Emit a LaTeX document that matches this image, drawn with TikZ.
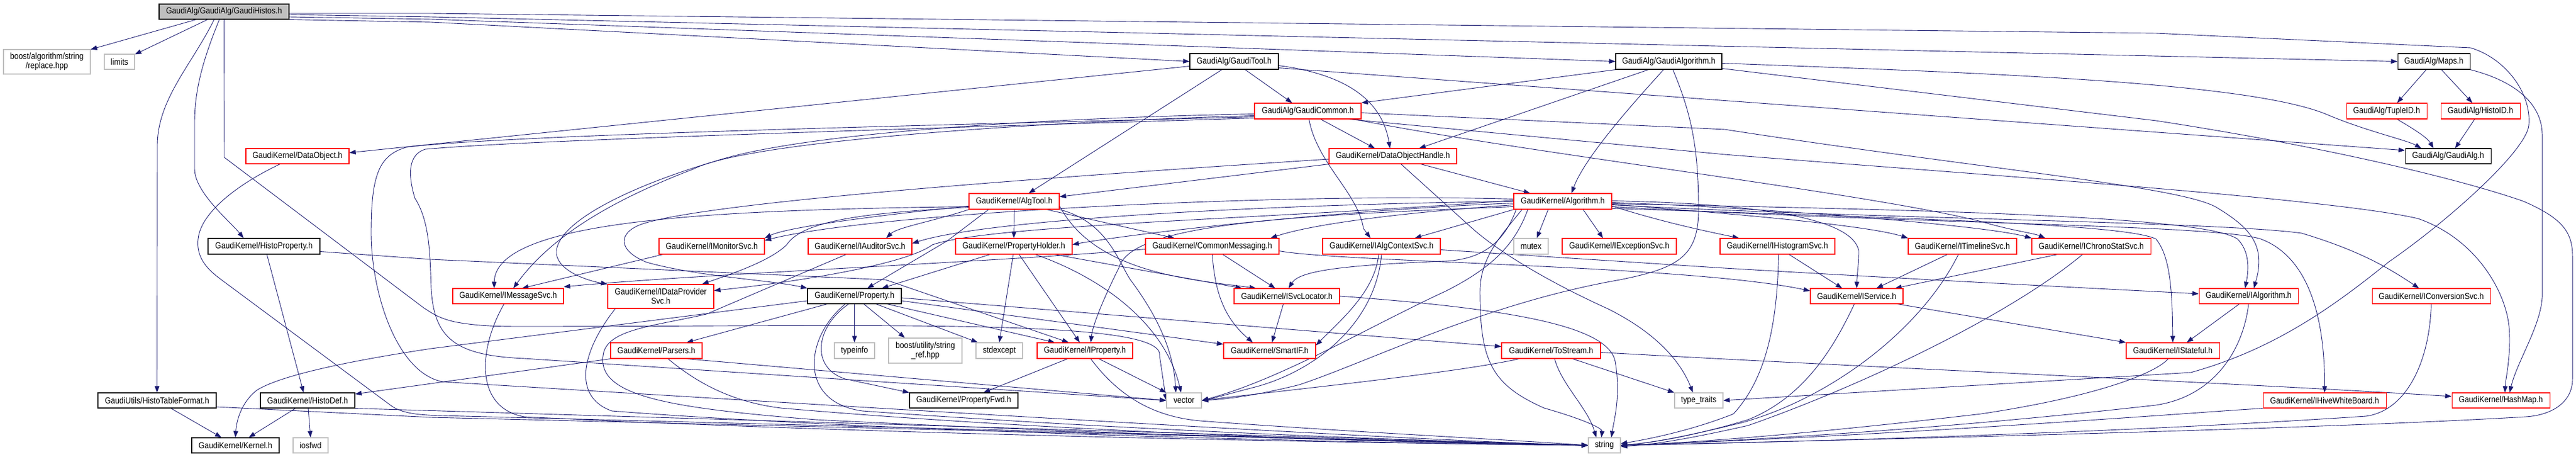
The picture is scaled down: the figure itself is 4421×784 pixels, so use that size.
\documentclass[tikz,border=0pt]{standalone}
\usepackage{fontspec}
\setmainfont[FakeStretch=0.88]{Liberation Sans}
\usetikzlibrary{arrows.meta}
\definecolor{edgec}{HTML}{191970}
\definecolor{grayc}{HTML}{BFBFBF}
\definecolor{redc}{HTML}{FF0000}
\pgfdeclarelayer{bottom}
\pgfdeclarelayer{edges}
\pgfsetlayers{bottom,edges,main}
\tikzset{
 nb/.style={rectangle, inner sep=0pt, line width=1.1pt, fill=white, align=center, font=\fontsize{15pt}{16pt}\selectfont},
 blk/.style={nb, draw=black},
 rd/.style={nb, draw=redc},
 gry/.style={nb, draw=grayc},
 root/.style={nb, draw=black, fill=grayc},
 e/.style={draw=edgec, line width=0.9pt, -{Triangle[length=11pt,width=8pt]}},
}
\newcommand\mknode[7]{\node[#1, minimum width=#5pt, minimum height=#6pt] (#2) at (#3,#4) {#7};}
\begin{document}
\begin{tikzpicture}[x=1pt,y=-1pt]
\begin{pgfonlayer}{bottom}
\fill[white] (0,0) rectangle (4421,784);
\end{pgfonlayer}
\useasboundingbox (0,0) rectangle (4421,784);
% ---------- nodes ----------
\mknode{root}{gh}{384.5}{20}{223}{26}{GaudiAlg/GaudiAlg/GaudiHistos.h}
\mknode{gry}{bar}{80.5}{106}{149}{42}{boost/algorithm/string\\/replace.hpp}
\mknode{gry}{lim}{205}{106}{52}{26}{limits}
\mknode{blk}{gt}{2118}{105.5}{152}{27}{GaudiAlg/GaudiTool.h}
\mknode{blk}{ga}{2864}{105.5}{182}{27}{GaudiAlg/GaudiAlgorithm.h}
\mknode{blk}{maps}{4177}{105.5}{124}{27}{GaudiAlg/Maps.h}
\mknode{rd}{gc}{2244.5}{190.5}{183}{27}{GaudiAlg/GaudiCommon.h}
\mknode{rd}{tid}{4096}{190.5}{138}{27}{GaudiAlg/TupleID.h}
\mknode{rd}{hid}{4257}{190.5}{136}{27}{GaudiAlg/HistoID.h}
\mknode{rd}{dobj}{510.5}{268}{177}{26}{GaudiKernel/DataObject.h}
\mknode{rd}{doh}{2390.5}{268}{219}{26}{GaudiKernel/DataObjectHandle.h}
\mknode{blk}{galg}{4201.5}{268}{147}{26}{GaudiAlg/GaudiAlg.h}
\mknode{rd}{at}{1740.5}{345.5}{155}{27}{GaudiKernel/AlgTool.h}
\mknode{rd}{alg}{2682}{345.5}{168}{27}{GaudiKernel/Algorithm.h}
\mknode{blk}{hp}{453}{422.5}{192}{27}{GaudiKernel/HistoProperty.h}
\mknode{rd}{ims}{1221.5}{422.5}{181}{27}{GaudiKernel/IMonitorSvc.h}
\mknode{rd}{ias}{1476}{422.5}{178}{27}{GaudiKernel/IAuditorSvc.h}
\mknode{rd}{ph}{1740}{422.5}{200}{27}{GaudiKernel/PropertyHolder.h}
\mknode{rd}{cm}{2080.5}{422.5}{229}{27}{GaudiKernel/CommonMessaging.h}
\mknode{rd}{iac}{2371}{422.5}{202}{27}{GaudiKernel/IAlgContextSvc.h}
\mknode{gry}{mutex}{2627.5}{422.5}{59}{27}{mutex}
\mknode{rd}{iex}{2779}{422.5}{196}{27}{GaudiKernel/IExceptionSvc.h}
\mknode{rd}{ihs}{3050.5}{422.5}{197}{27}{GaudiKernel/IHistogramSvc.h}
\mknode{rd}{itl}{3368}{422.5}{186}{27}{GaudiKernel/ITimelineSvc.h}
\mknode{rd}{ics}{3589}{422.5}{204}{27}{GaudiKernel/IChronoStatSvc.h}
\mknode{rd}{imsg}{872}{508}{190}{26}{GaudiKernel/IMessageSvc.h}
\mknode{rd}{idp}{1134}{508.5}{182}{41}{GaudiKernel/IDataProvider\\Svc.h}
\mknode{blk}{prop}{1466.5}{508}{161}{26}{GaudiKernel/Property.h}
\mknode{rd}{isl}{2208.5}{508}{181}{26}{GaudiKernel/ISvcLocator.h}
\mknode{rd}{isv}{3186.5}{508}{159}{26}{GaudiKernel/IService.h}
\mknode{rd}{ialg}{3859}{508}{170}{26}{GaudiKernel/IAlgorithm.h}
\mknode{rd}{icv}{4172.5}{508}{203}{26}{GaudiKernel/IConversionSvc.h}
\mknode{rd}{pars}{1126.5}{601.5}{157}{27}{GaudiKernel/Parsers.h}
\mknode{gry}{tinfo}{1466.5}{601.5}{69}{27}{typeinfo}
\mknode{gry}{bus}{1588}{601.5}{126}{43}{boost/utility/string\\\_ref.hpp}
\mknode{gry}{stdx}{1715}{601.5}{80}{27}{stdexcept}
\mknode{rd}{iprop}{1862}{601.5}{164}{27}{GaudiKernel/IProperty.h}
\mknode{rd}{sif}{2179}{601.5}{158}{27}{GaudiKernel/SmartIF.h}
\mknode{rd}{tos}{2662}{601.5}{170}{27}{GaudiKernel/ToStream.h}
\mknode{rd}{ist}{3729}{601.5}{160}{27}{GaudiKernel/IStateful.h}
\mknode{blk}{htf}{269.5}{687}{203}{26}{GaudiUtils/HistoTableFormat.h}
\mknode{blk}{hdef}{528}{687}{162}{26}{GaudiKernel/HistoDef.h}
\mknode{blk}{pfwd}{1654}{687}{186}{26}{GaudiKernel/PropertyFwd.h}
\mknode{gry}{vec}{2032}{687}{60}{26}{vector}
\mknode{gry}{tt}{2915.5}{687}{83}{26}{type\_traits}
\mknode{rd}{ihwb}{3989.5}{687}{211}{26}{GaudiKernel/IHiveWhiteBoard.h}
\mknode{rd}{hm}{4292}{687}{168}{26}{GaudiKernel/HashMap.h}
\mknode{blk}{kern}{404}{764}{150}{26}{GaudiKernel/Kernel.h}
\mknode{gry}{iosfwd}{533}{764}{60}{26}{iosfwd}
\mknode{gry}{str}{2753.5}{764}{55}{26}{string}
% ---------- edges ----------
\begin{pgfonlayer}{edges}
% GaudiHistos.h
\draw[e] (gh) -- (bar);
\draw[e] (gh) -- (lim);
\draw[e] ([xshift=-17pt]gh.south) .. controls (330,110) and (270,170) .. (270,250) -- (htf.north);
\draw[e] ([xshift=-8pt]gh.south) .. controls (345,110) and (334,160) .. (334,210) -- (334,290) .. controls (334,330) and (395,380) .. ([xshift=-35pt]hp.north);
\draw[e] (gh.south) -- (385,270) -- (727,528) .. controls (740,536) and (750,545) .. (780,552) .. controls (820,560) and (860,560) .. (900,560) .. controls (1500,560) and (2000,545) .. (1990,610) -- (vec.west);
\draw[e] (gh.south east) -- (740,38) -- (gt.west);
\draw[e] ([yshift=-9pt]gh.east) -- (740,33) -- (ga.west);
\draw[e] ([yshift=-5pt]gh.east) -- (740,29) -- (maps.west);
\draw[e] ([yshift=-3pt]gh.east) -- (740,23) -- (3700,57) -- (4240,82) .. controls (4300,100) and (4345,160) .. (4340,215) .. controls (4335,260) and (4200,380) .. (4100,449) .. controls (4000,530) and (3900,600) .. (3760,639) -- (tt.east);
% GaudiTool.h
\draw[e] ([xshift=19pt]gt.south) -- ([xshift=-27pt]gc.north);
\draw[e] ([xshift=-21pt]gt.south) -- ([xshift=25pt]at.north);
\draw[e] ([yshift=-7pt]gt.east) .. controls (2290,125) and (2370,160) .. ([xshift=-5pt]doh.north);
\draw[e] ([yshift=-11pt]gt.east) -- ([yshift=10pt]galg.west);
\draw[e] ([yshift=-8pt]gt.west) -- ([yshift=6pt]dobj.east);
% GaudiAlgorithm.h
\draw[e] (ga.south west) -- (gc.north east);
\draw[e] ([xshift=-35pt]ga.south) -- ([xshift=45pt]doh.north);
\draw[e] ([xshift=-9pt]ga.south) .. controls (2800,180) and (2720,270) .. ([xshift=15pt]alg.north);
\draw[e] ([yshift=-3pt]ga.east) .. controls (3400,125) and (3850,140) .. (3990,195) .. controls (4060,225) and (4130,240) .. ([xshift=-46pt]galg.north);
\draw[e] ([yshift=-12pt]ga.east) -- (3700,207) .. controls (3950,245) and (4200,300) .. (4330,345) .. controls (4400,375) and (4415,400) .. (4415,440) -- (4415,650) .. controls (4415,690) and (4380,712) .. (4335,715) .. controls (4000,735) and (3300,752) .. (str.east);
\draw[e] ([xshift=7pt]ga.south) .. controls (2905,200) and (2915,260) .. (2915,360) .. controls (2915,440) and (2880,460) .. (2780,480) .. controls (2550,520) and (2350,620) .. (2230,660) .. controls (2150,680) and (2100,685) .. (vec.east);
% Maps.h, TupleID.h, HistoID.h
\draw[e] ([xshift=-13pt]maps.south) -- ([xshift=18pt]tid.north);
\draw[e] ([xshift=13pt]maps.south) -- ([xshift=-14pt]hid.north);
\draw[e] (maps.south east) .. controls (4320,140) and (4362,180) .. (4363,230) -- (4363,510) .. controls (4360,560) and (4320,620) .. ([xshift=15pt]hm.north);
\draw[e] ([xshift=18pt]tid.south) .. controls (4140,220) and (4165,235) .. ([xshift=-25pt]galg.north);
\draw[e] ([xshift=-10pt]hid.south) -- ([xshift=12pt]galg.north);
% GaudiCommon.h
\draw[e] ([xshift=22pt]gc.south) -- ([xshift=-31pt]doh.north);
\draw[e] ([xshift=2pt]gc.south) .. controls (2260,280) and (2330,330) .. (2340,392) -- ([xshift=-19pt]iac.north);
\draw[e] ([yshift=-5pt]gc.west) .. controls (1900,200) and (1400,220) .. (1226,277) .. controls (1080,320) and (960,380) .. (955,430) .. controls (952,460) and (1000,480) .. (idp.north west);
\draw[e] ([yshift=-8pt]gc.west) .. controls (1900,205) and (1300,235) .. (1190,290) .. controls (1060,340) and (950,400) .. ([xshift=9pt]imsg.north);
\draw[e] ([yshift=-10pt]gc.west) .. controls (1600,215) and (900,230) .. (700,252) .. controls (650,265) and (637,300) .. (637,400) .. controls (637,500) and (680,640) .. (760,655) .. controls (1500,700) and (2400,755) .. (str.west);
\draw[e] ([yshift=-12pt]gc.west) .. controls (1600,220) and (900,240) .. (730,256) .. controls (700,265) and (700,300) .. (712,340) .. controls (738,380) and (738,440) .. (740,495) .. controls (745,580) and (780,610) .. (900,615) -- (vec.west);
\draw[e] ([yshift=-3pt]gc.east) -- (2960,222) .. controls (3400,290) and (3750,320) .. (3806,357) .. controls (3860,390) and (3890,420) .. ([xshift=9pt]ialg.north);
\draw[e] ([xshift=-22pt]gc.south east) -- (2960,265) .. controls (3400,300) and (4000,340) .. (4150,375) .. controls (4250,410) and (4300,500) .. (4306,560) .. controls (4310,610) and (4300,650) .. ([xshift=7pt]hm.north);
\draw[e] ([xshift=-12pt]gc.south east) .. controls (2600,260) and (3200,330) .. (3400,380) .. controls (3450,395) and (3490,400) .. ([xshift=-79pt]ics.north);
% DataObjectHandle.h
\draw[e] ([xshift=48pt]doh.south) -- ([xshift=-56pt]alg.north);
\draw[e] (doh.south west) -- ([yshift=8pt]at.east);
\draw[e] ([yshift=-5pt]doh.west) .. controls (1700,310) and (1200,350) .. (1100,385) .. controls (1060,400) and (1060,430) .. (1110,450) .. controls (1200,475) and (1320,480) .. (prop.north west);
\draw[e] ([xshift=14pt]doh.south) -- (2527,392) .. controls (2570,430) and (2650,480) .. (2760,530) .. controls (2830,565) and (2880,610) .. ([xshift=-10pt]tt.north);
% DataObject.h
\draw[e] ([xshift=-30pt]dobj.south) .. controls (420,310) and (345,360) .. (340,410) .. controls (336,445) and (360,465) .. (380,480) -- (670,695) .. controls (690,710) and (720,712) .. (760,713) -- (str.west);
% HistoProperty.h, HistoTableFormat.h, HistoDef.h
\draw[e] ([xshift=5pt]hp.south) -- ([xshift=-7pt]hdef.north);
\draw[e] ([yshift=-9pt]hp.east) -- (740,445) -- (1520,480) -- ([xshift=-28pt]iprop.north);
\draw[e] ([xshift=24pt]htf.south) -- ([xshift=-24pt]kern.north);
\draw[e] ([yshift=-11pt]htf.east) -- (740,716) -- (str.west);
\draw[e] ([xshift=-21pt]hdef.south) -- ([xshift=23pt]kern.north);
\draw[e] ([xshift=1pt]hdef.south) -- (iosfwd.north);
\draw[e] (hdef.south east) -- (str.west);
% Property.h
\draw[e] ([yshift=-8pt]prop.west) -- (740,598) .. controls (560,625) and (470,650) .. (440,670) .. controls (415,690) and (406,720) .. (kern.north);
\draw[e] ([xshift=-47pt]prop.south) -- ([xshift=52pt]pars.north);
\draw[e] (prop.south) -- (tinfo.north);
\draw[e] ([xshift=16pt]prop.south) -- ([xshift=-35pt]bus.north);
\draw[e] ([xshift=37pt]prop.south) -- ([xshift=-37pt]stdx.north);
\draw[e] ([xshift=56pt]prop.south) -- ([xshift=-52pt]iprop.north);
\draw[e] ([yshift=-8pt]prop.east) -- ([yshift=11pt]sif.west);
\draw[e] ([yshift=-3pt]prop.east) -- ([yshift=7pt]tos.west);
\draw[e] ([xshift=-10pt]prop.south) .. controls (1400,560) and (1390,630) .. (1450,650) -- (pfwd.north west);
\draw[e] ([xshift=-16pt]prop.south) .. controls (1380,580) and (1370,690) .. (1480,705) .. controls (1900,735) and (2300,752) .. (str.west);
% Parsers.h
\draw[e] (pars.south west) -- ([yshift=11pt]hdef.east);
\draw[e] ([xshift=20pt]pars.south) .. controls (1200,660) and (1260,690) .. (1340,700) .. controls (1800,740) and (2400,760) .. (str.west);
\draw[e] ([xshift=52pt]pars.south) -- (vec.west);
% IProperty.h
\draw[e] ([xshift=-30pt]iprop.south) -- ([xshift=34pt]pfwd.north);
\draw[e] ([xshift=24pt]iprop.south) -- (vec.north west);
\draw[e] ([xshift=10pt]iprop.south) .. controls (1920,680) and (1980,715) .. (2060,722) .. controls (2300,740) and (2600,755) .. (str.west);
% PropertyHolder.h
\draw[e] ([xshift=-41pt]ph.south) -- ([xshift=47pt]prop.north);
\draw[e] ([xshift=-1pt]ph.south) -- (stdx.north);
\draw[e] ([xshift=9pt]ph.south) -- ([xshift=-9pt]iprop.north);
\draw[e] ([xshift=37pt]ph.south) .. controls (1900,480) and (2000,560) .. ([xshift=-5pt]vec.north);
\draw[e] ([xshift=70pt]ph.south) -- ([xshift=-77pt]isl.north);
% CommonMessaging.h
\draw[e] (cm.south) .. controls (2085,500) and (2100,545) .. ([xshift=-29pt]sif.north);
\draw[e] ([xshift=18pt]cm.south) -- ([xshift=-20pt]isl.north);
\draw[e] ([yshift=-5pt]cm.west) .. controls (1700,450) and (1200,470) .. ([yshift=16pt]imsg.east);
\draw[e] ([yshift=-8pt]cm.east) .. controls (2300,450) and (2900,455) .. ([yshift=9pt]isv.west);
% AlgTool.h
\draw[e] (at.south) -- (ph.north);
\draw[e] ([yshift=-8pt]at.west) .. controls (1500,370) and (1350,390) .. (ims.north east);
\draw[e] (at.south west) .. controls (1600,380) and (1540,390) .. ([xshift=45pt]ias.north);
\draw[e] ([xshift=56pt]at.south) -- ([xshift=-65pt]cm.north);
\draw[e] ([xshift=-44pt]at.south) -- (1626,413) -- ([xshift=22pt]prop.north);
\draw[e] ([yshift=-9pt]at.west) .. controls (1200,360) and (850,380) .. ([xshift=-24pt]imsg.north);
\draw[e] ([yshift=4pt]at.south west) .. controls (1500,365) and (1380,375) .. (1350,420) .. controls (1320,450) and (1240,475) .. ([xshift=71pt]idp.north);
\draw[e] ([yshift=-8pt]at.east) .. controls (1880,470) and (2050,480) .. ([xshift=-53pt]isl.north);
\draw[e] (at.south east) .. controls (1900,380) and (1920,450) .. (1940,480) .. controls (2000,560) and (2015,620) .. ([xshift=-14pt]vec.north);
% Algorithm.h
\draw[e] ([yshift=4pt]alg.west) .. controls (2200,330) and (1500,365) .. ([yshift=-4pt]ims.north east);
\draw[e] (alg.west) .. controls (2200,350) and (1700,375) .. ([yshift=5pt]ias.east);
\draw[e] ([yshift=-3pt]alg.west) .. controls (2300,360) and (1950,400) .. ([yshift=3pt]ph.east);
\draw[e] ([yshift=-6pt]alg.west) .. controls (2400,365) and (2250,385) .. ([xshift=-15pt]cm.north east);
\draw[e] (alg.south west) -- ([xshift=57pt]iac.north);
\draw[e] ([xshift=-25pt]alg.south) -- ([xshift=10pt]mutex.north);
\draw[e] ([xshift=35pt]alg.south) -- ([xshift=-28pt]iex.north);
\draw[e] ([yshift=-8pt]alg.east) .. controls (2850,380) and (2920,395) .. ([xshift=-66pt]ihs.north);
\draw[e] ([yshift=-5pt]alg.east) .. controls (2950,365) and (3200,385) .. (itl.north west);
\draw[e] ([yshift=-2pt]alg.east) .. controls (3000,355) and (3400,385) .. (ics.north west);
\draw[e] ([yshift=1pt]alg.east) .. controls (3050,350) and (3180,380) .. (3190,430) .. controls (3190,455) and (3187,470) .. (isv.north);
\draw[e] ([xshift=-80pt]alg.south) .. controls (2580,420) and (2540,445) .. (2480,448) .. controls (2300,455) and (2230,465) .. ([xshift=3pt]isl.north);
\draw[e] ([yshift=-4pt]alg.east) .. controls (3300,360) and (3780,370) .. (3840,410) .. controls (3860,430) and (3860,460) .. ([xshift=-6pt]ialg.north);
\draw[e] ([yshift=-6pt]alg.east) .. controls (3200,375) and (3800,380) .. (3950,400) .. controls (4050,430) and (4100,460) .. ([xshift=-21pt]icv.north);
\draw[e] ([yshift=-9pt]alg.east) .. controls (3300,385) and (3800,385) .. (3880,410) .. controls (3960,440) and (3990,540) .. (ihwb.north);
\draw[e] ([yshift=-12pt]alg.east) .. controls (3300,375) and (3650,385) .. (3700,410) .. controls (3725,440) and (3728,500) .. (ist.north);
\draw[e] ([yshift=2pt]alg.west) .. controls (2200,375) and (1700,385) .. (1600,420) .. controls (1560,450) and (1400,480) .. ([yshift=10pt]idp.east);
\draw[e] ([yshift=-9pt]alg.west) .. controls (2200,370) and (1940,385) .. (1920,460) .. controls (1890,520) and (1875,560) .. ([xshift=10pt]iprop.north);
\draw[e] ([xshift=-70pt]alg.south) .. controls (2580,400) and (2540,440) .. (2540,500) .. controls (2540,620) and (2560,660) .. (2650,700) .. controls (2720,720) and (2750,735) .. ([xshift=-5pt]str.north);
\draw[e] ([xshift=-60pt]alg.south) .. controls (2600,420) and (2560,460) .. (2480,500) .. controls (2350,560) and (2200,650) .. (vec.east);
% service interfaces
\draw[e] ([xshift=20pt]ihs.south) -- ([xshift=-25pt]isv.north);
\draw[e] ([xshift=-26pt]itl.south) -- ([xshift=34pt]isv.north);
\draw[e] ([xshift=-58pt]ics.south) -- ([xshift=66pt]isv.north);
\draw[e] ([xshift=2pt]ihs.south) .. controls (3050,560) and (3030,650) .. (2975,710) .. controls (2900,740) and (2820,755) .. ([yshift=3pt]str.east);
\draw[e] ([xshift=-7pt]itl.south) .. controls (3300,560) and (3150,680) .. (2990,725) .. controls (2880,752) and (2830,760) .. (str.east);
\draw[e] ([xshift=-15pt]ics.south) .. controls (3450,540) and (3200,660) .. (3000,730) .. controls (2880,757) and (2830,763) .. ([yshift=-2pt]str.east);
\draw[e] ([xshift=-4pt]isv.south) .. controls (3150,590) and (3100,680) .. (3000,720) .. controls (2900,750) and (2830,760) .. (str.east);
\draw[e] ([xshift=70pt]isv.south) -- (ist.north west);
\draw[e] ([xshift=-16pt]ialg.south) -- ([xshift=24pt]ist.north);
\draw[e] (ialg.south) .. controls (3850,600) and (3800,680) .. (3700,695) .. controls (3300,740) and (2950,758) .. (str.east);
\draw[e] (icv.south) .. controls (4170,620) and (4130,705) .. (4060,714) .. controls (3600,745) and (3000,760) .. (str.east);
\draw[e] (ihwb.south west) .. controls (3800,705) and (3300,745) .. (str.east);
\draw[e] ([xshift=-8pt]ist.south) .. controls (3700,640) and (3600,680) .. (3400,710) .. controls (3100,745) and (2900,760) .. (str.east);
\draw[e] ([xshift=6pt]tos.south) .. controls (2680,660) and (2725,700) .. ([xshift=-14pt]str.north);
\draw[e] ([xshift=37pt]tos.south) -- (tt.north west);
\draw[e] ([xshift=-55pt]tos.south) .. controls (2500,640) and (2200,670) .. (vec.east);
\draw[e] ([yshift=-3pt]tos.east) .. controls (3200,630) and (3800,655) .. ([yshift=7pt]hm.west);
\draw[e] ([xshift=-6pt]isl.south) -- ([xshift=4pt]sif.north);
\draw[e] (isl.east) .. controls (2600,530) and (2760,560) .. (2772,620) .. controls (2782,680) and (2770,720) .. ([xshift=12pt]str.north);
\draw[e] ([xshift=-5pt]iac.south) .. controls (2360,500) and (2300,550) .. ([yshift=-5pt]sif.north east);
\draw[e] (iac.south) .. controls (2360,560) and (2250,640) .. (2150,665) .. controls (2100,678) and (2080,684) .. (vec.east);
\draw[e] ([yshift=-6pt]iac.east) -- (2960,460) .. controls (3300,480) and (3600,495) .. ([yshift=4pt]ialg.west);
\draw[e] ([xshift=-84pt]ims.south) -- ([xshift=24pt]imsg.north);
\draw[e] ([xshift=-24pt]ias.south) -- (1212,539) .. controls (1120,560) and (1040,565) .. (1035,610) .. controls (1025,680) and (1150,700) .. (1400,720) .. controls (2000,750) and (2500,760) .. (str.west);
\draw[e] ([xshift=-7pt]imsg.south) .. controls (820,600) and (815,700) .. (900,715) .. controls (1500,745) and (2300,760) .. (str.west);
\draw[e] ([xshift=-78pt]idp.south) .. controls (1000,600) and (980,680) .. (1050,705) .. controls (1500,740) and (2300,760) .. (str.west);
\end{pgfonlayer}
\end{tikzpicture}
\end{document}
